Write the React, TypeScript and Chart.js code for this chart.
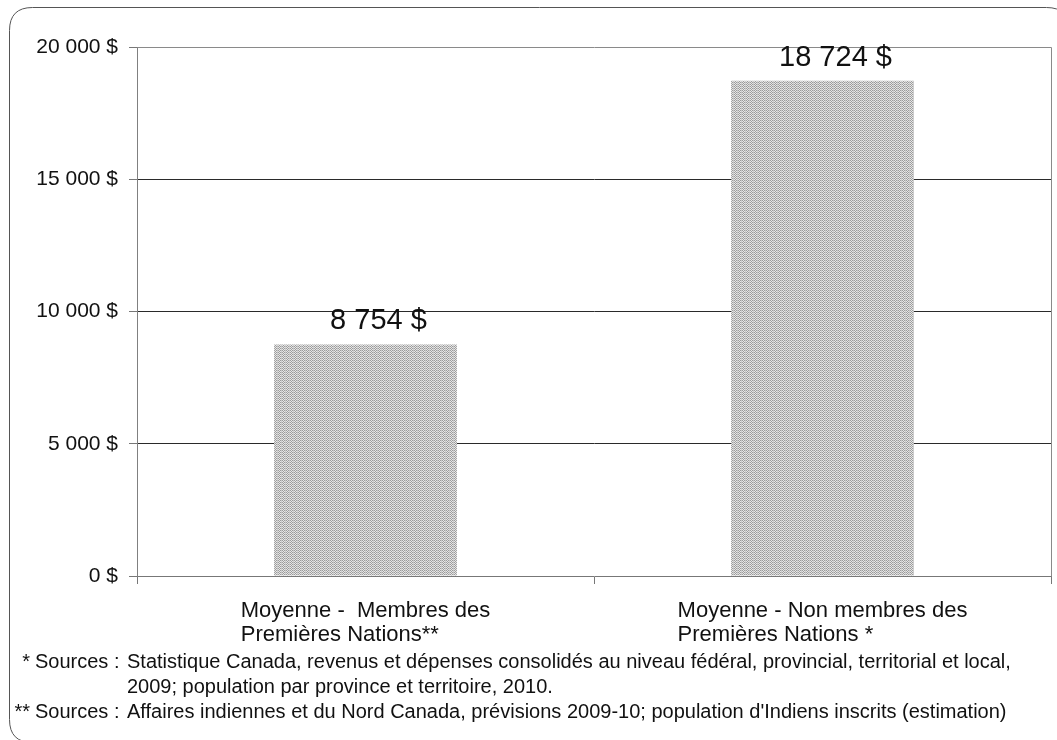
import React, { useEffect, useRef } from "react";
import { Chart, registerables } from "chart.js";

Chart.register(...registerables);

const CATEGORY_LINES: string[][] = [
  ["Moyenne -  Membres des", "Premières Nations**"],
  ["Moyenne - Non membres des", "Premières Nations *"],
];
const VALUES: number[] = [8754, 18724];
const VALUE_LABELS: string[] = ["8 754 $", "18 724 $"];
const Y_MIN = 0;
const Y_MAX = 20000;
const Y_STEP = 5000;
const FOOTNOTE_MARKS: string[] = ["*", "", "**"];
const FOOTNOTE_PREFIX: string[] = ["Sources :", "", "Sources :"];
const FOOTNOTE_TEXT: string[] = [
  "Statistique Canada, revenus et dépenses consolidés au niveau fédéral, provincial, territorial et local,",
  "2009; population par province et territoire, 2010.",
  "Affaires indiennes et du Nord Canada, prévisions 2009-10; population d'Indiens inscrits (estimation)",
];

const FONT = "'Liberation Sans', Arial, sans-serif";

function formatMoney(v: number): string {
  const s = Math.round(v).toString().replace(/\B(?=(\d{3})+(?!\d))/g, " ");
  return s + " $";
}

function makePattern(): CanvasPattern | string {
  const c = document.createElement("canvas");
  c.width = 4;
  c.height = 4;
  const g = c.getContext("2d");
  if (!g) return "#bdbdbd";
  g.fillStyle = "#e6e6e6";
  g.fillRect(0, 0, 4, 4);
  g.fillStyle = "#9c9c9c";
  const pts = [
    [0, 0], [2, 0], [1, 1], [3, 1], [0, 2], [2, 2], [1, 3], [3, 3],
  ];
  for (const [x, y] of pts) g.fillRect(x, y, 1, 1);
  g.fillStyle = "#c8c8c8";
  g.fillRect(1, 0, 1, 4);
  const p = g.createPattern(c, "repeat");
  return p || "#bdbdbd";
}

const decorPlugin = {
  id: "decor",
  beforeDraw(chart: any) {
    const ctx = chart.ctx;
    ctx.save();
    ctx.fillStyle = "#ffffff";
    ctx.fillRect(0, 0, chart.width, chart.height);
    // rounded outer frame (extends past right/bottom)
    const x = 9.5, y = 7.5, w = 1060, h = 735, r = 23;
    ctx.strokeStyle = "#555555";
    ctx.lineWidth = 1;
    ctx.beginPath();
    ctx.moveTo(x + r, y);
    ctx.lineTo(x + w - r, y);
    ctx.quadraticCurveTo(x + w, y, x + w, y + r);
    ctx.lineTo(x + w, y + h - r);
    ctx.quadraticCurveTo(x + w, y + h, x + w - r, y + h);
    ctx.lineTo(x + r, y + h);
    ctx.quadraticCurveTo(x, y + h, x, y + h - r);
    ctx.lineTo(x, y + r);
    ctx.quadraticCurveTo(x, y, x + r, y);
    ctx.stroke();
    ctx.restore();
  },
  beforeDatasetsDraw(chart: any) {
    const ctx = chart.ctx;
    const a = chart.chartArea;
    ctx.save();
    ctx.strokeStyle = "#8a8a8a";
    ctx.lineWidth = 1;
    ctx.beginPath();
    ctx.moveTo(Math.round(a.left) + 0.5, Math.round(a.top) + 0.5);
    ctx.lineTo(Math.round(a.right) + 0.5, Math.round(a.top) + 0.5);
    ctx.lineTo(Math.round(a.right) + 0.5, Math.round(a.bottom) + 0.5);
    ctx.stroke();
    ctx.restore();
  },
  afterDraw(chart: any) {
    const ctx = chart.ctx;
    const a = chart.chartArea;
    const xs = chart.scales.x;
    ctx.save();
    ctx.fillStyle = "#111111";
    // value labels
    ctx.font = `29px ${FONT}`;
    ctx.textAlign = "center";
    ctx.textBaseline = "alphabetic";
    const meta = chart.getDatasetMeta(0);
    meta.data.forEach((bar: any, i: number) => {
      ctx.fillText(VALUE_LABELS[i], bar.x + 13, bar.y - 15);
    });
    // category labels: left-aligned block centred on category
    ctx.font = `22px ${FONT}`;
    ctx.textAlign = "left";
    CATEGORY_LINES.forEach((lines, i) => {
      const cx = xs.getPixelForValue(i);
      const bw = Math.max(...lines.map((l) => ctx.measureText(l).width));
      const left = cx - bw / 2;
      lines.forEach((l, j) => {
        ctx.fillText(l, left, a.bottom + 41 + j * 24);
      });
    });
    // footnotes
    ctx.font = `20px ${FONT}`;
    FOOTNOTE_TEXT.forEach((t, i) => {
      const by = a.bottom + 92 + i * 25;
      if (FOOTNOTE_MARKS[i]) {
        ctx.textAlign = "right";
        ctx.fillText(FOOTNOTE_MARKS[i], 30, by);
      }
      ctx.textAlign = "left";
      if (FOOTNOTE_PREFIX[i]) ctx.fillText(FOOTNOTE_PREFIX[i], 35, by);
      ctx.fillText(t, 127, by);
    });
    ctx.restore();
  },
};

export default function App() {
  const ref = useRef<HTMLCanvasElement | null>(null);
  useEffect(() => {
    if (!ref.current) return;
    const pattern = makePattern();
    const chart = new Chart(ref.current, {
      type: "bar",
      data: {
        labels: CATEGORY_LINES.map((l) => l.join(" ")),
        datasets: [
          {
            data: VALUES,
            backgroundColor: pattern as any,
            borderWidth: 0,
            barPercentage: 0.4,
            categoryPercentage: 1,
          },
        ],
      },
      options: {
        animation: false,
        responsive: false,
        maintainAspectRatio: false,
        layout: { padding: { left: 0, top: 47, right: 6, bottom: 154 } },
        plugins: {
          legend: { display: false },
          tooltip: { enabled: false },
          title: { display: false },
        },
        scales: {
          x: {
            type: "category",
            offset: true,
            grid: {
              offset: true,
              drawOnChartArea: false,
              drawTicks: true,
              tickLength: 8,
              tickColor: "#777777",
            },
            border: { display: true, color: "#777777", width: 1 },
            ticks: { display: false },
            afterFit: (s: any) => {
              s.height = 10;
            },
          },
          y: {
            min: Y_MIN,
            max: Y_MAX,
            grid: {
              color: (c: any) =>
                c.tick && (c.tick.value === Y_MIN || c.tick.value === Y_MAX) ? "rgba(0,0,0,0)" : "#2a2a2a",
              lineWidth: 1,
              drawTicks: true,
              tickLength: 8,
              tickColor: "#777777",
            },
            border: { display: true, color: "#808080", width: 1 },
            ticks: {
              stepSize: Y_STEP,
              padding: 11,
              color: "#111111",
              font: { family: FONT, size: 21 },
              callback: (v: any) => formatMoney(Number(v)),
            },
            afterFit: (s: any) => {
              s.width = 137;
            },
          },
        },
      },
      plugins: [decorPlugin],
    });
    return () => chart.destroy();
  }, []);
  return (
    <div style={{ position: "absolute", left: 0, top: 0, width: 1057, height: 740 }}>
      <canvas ref={ref} width={1057} height={740} style={{ display: "block", width: 1057, height: 740 }} />
    </div>
  );
}
